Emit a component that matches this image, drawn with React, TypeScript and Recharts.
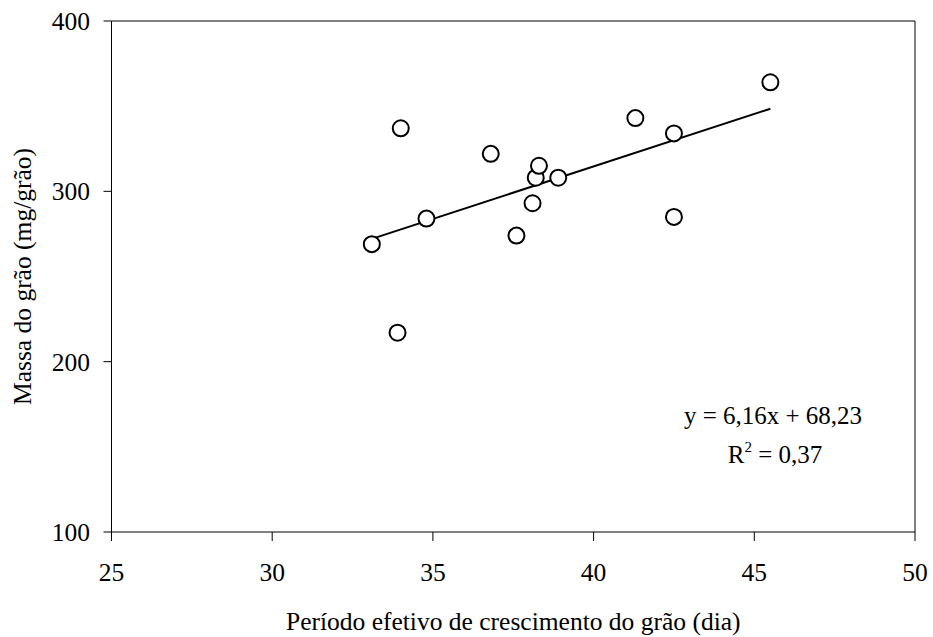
import React from "react";
import {
  ScatterChart,
  Scatter,
  XAxis,
  YAxis,
  ReferenceLine,
  Customized,
} from "recharts";

// dados
const periodo = [33.1, 34.0, 33.9, 34.8, 36.8, 37.6, 38.1, 38.2, 38.3, 38.9, 41.3, 42.5, 42.5, 45.5];
const massa = [269, 337, 217, 284, 322, 274, 293, 308, 315, 308, 343, 334, 285, 364];

const xTicks = [25, 30, 35, 40, 45, 50];
const yTicks = [100, 200, 300, 400];

// linha de tendência (extremos)
const trendX = [33.1, 45.5];
const trendY = [272.1, 348.5];

const points = periodo.map((x, i) => ({ x, y: massa[i] }));

const FONT = '"Liberation Serif", "Times New Roman", serif';
const FS = 25.5;

const Marker = (props: any) => (
  <circle cx={props.cx} cy={props.cy} r={8} fill="#fff" stroke="#000" strokeWidth={2} />
);

const Equation = () => (
  <g fontSize={25} fill="#000">
    <text x={773} y={424} textAnchor="middle">
      y = 6,16x + 68,23
    </text>
    <text x={775} y={463} textAnchor="middle">
      <tspan>R</tspan>
      <tspan dy={-11} fontSize={15}>2</tspan>
      <tspan dy={11}> = 0,37</tspan>
    </text>
  </g>
);

export default function App() {
  const tick = { fill: "#000", fontSize: FS };
  return (
    <div style={{ width: 933, height: 637, background: "#fff" }}>
      <style>{`body{margin:0;} svg text, svg tspan{font-family:${FONT} !important;}`}</style>
      <ScatterChart
        width={933}
        height={637}
        margin={{ top: 21, right: 18, bottom: 45, left: 11.5 }}
      >
        <XAxis
          type="number"
          dataKey="x"
          domain={[25, 50]}
          ticks={xTicks}
          allowDataOverflow
          stroke="#000"
          tickSize={9}
          tickMargin={22}
          height={60}
          tick={tick}
          tickLine={{ stroke: "#000" }}
          label={{
            value: "Período efetivo de crescimento do grão (dia)",
            position: "bottom",
            offset: 19.4,
            fill: "#000",
            fontSize: FS,
          }}
        />
        <YAxis
          type="number"
          dataKey="y"
          domain={[100, 400]}
          ticks={yTicks}
          allowDataOverflow
          stroke="#000"
          tickSize={8}
          tickMargin={13.5}
          width={100}
          tick={tick}
          tickLine={{ stroke: "#000" }}
          label={{
            value: "Massa do grão (mg/grão)",
            angle: -90,
            position: "insideLeft",
            offset: 10,
            fill: "#000",
            fontSize: FS,
            style: { textAnchor: "middle" },
          }}
        />
        <ReferenceLine y={400} stroke="#000" />
        <ReferenceLine x={50} stroke="#000" />
        <Scatter data={points} shape={Marker} isAnimationActive={false} />
        <ReferenceLine
          segment={[
            { x: trendX[0], y: trendY[0] },
            { x: trendX[1], y: trendY[1] },
          ]}
          stroke="#000"
          strokeWidth={2}
        />
        <Customized component={Equation} />
      </ScatterChart>
    </div>
  );
}
